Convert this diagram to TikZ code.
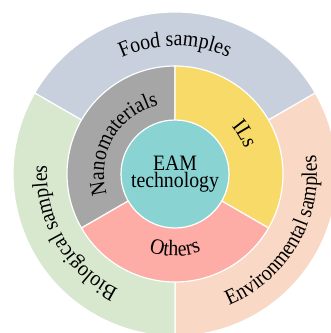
\documentclass[tikz,border=0pt]{standalone}
\usepackage{fontspec}
\setmainfont{Liberation Serif}[FakeStretch=0.9]
\usetikzlibrary{decorations.text}
\definecolor{foodc}{HTML}{C8D0DD}
\definecolor{bioc}{HTML}{D7E8CE}
\definecolor{envc}{HTML}{F9D8C5}
\definecolor{nanoc}{HTML}{A6A6A6}
\definecolor{ilsc}{HTML}{F8DA68}
\definecolor{othc}{HTML}{FDACA6}
\definecolor{eamc}{HTML}{8AD3D3}
\newcommand{\ringfont}{\fontsize{22}{24}\selectfont}
\begin{document}
\begin{tikzpicture}[sec/.style={fill=#1,draw=white,line width=1.2pt},lbl/.style={decorate,decoration={text along path,text align=center,text={|\ringfont|#1}}}]
\useasboundingbox (0,0) rectangle (331pt,333pt);
\clip (0,0) rectangle (331pt,333pt);
\coordinate (c) at (175pt,159pt);
% outer ring
\path[sec=foodc] (c) -- ++(30:162pt) arc[start angle=30,end angle=150,radius=162pt] -- cycle;
\path[sec=envc] (c) -- ++(-90:162pt) arc[start angle=-90,end angle=30,radius=162pt] -- cycle;
\path[sec=bioc] (c) -- ++(150:162pt) arc[start angle=150,end angle=270,radius=162pt] -- cycle;
% inner ring
\path[sec=nanoc] (c) -- ++(90:108pt) arc[start angle=90,end angle=210,radius=108pt] -- cycle;
\path[sec=ilsc] (c) -- ++(-30:108pt) arc[start angle=-30,end angle=90,radius=108pt] -- cycle;
\path[sec=othc] (c) -- ++(210:108pt) arc[start angle=210,end angle=330,radius=108pt] -- cycle;
\node (eam) [circle,fill=eamc,draw=white,line width=1.2pt,minimum size=108pt,inner sep=0pt,align=center,font=\fontsize{22}{17}\selectfont] at (c) {EAM\\technology};
% labels
\path[lbl=Food samples] ([shift={(150:128pt)}]c) arc[start angle=150,end angle=30,radius=128pt];
\path[lbl=Biological samples] ([shift={(270:128pt)}]c) arc[start angle=270,end angle=150,radius=128pt];
\path[lbl=Environmental samples] ([shift={(-90:142pt)}]c) arc[start angle=-90,end angle=30,radius=142pt];
\path[lbl=Nanomaterials] ([shift={(210:71pt)}]c) arc[start angle=210,end angle=90,radius=71pt];
\path[lbl=ILs] ([shift={(90:74pt)}]c) arc[start angle=90,end angle=-30,radius=74pt];
\path[lbl=Others] ([shift={(210:82pt)}]c) arc[start angle=210,end angle=330,radius=82pt];
\end{tikzpicture}
\end{document}
